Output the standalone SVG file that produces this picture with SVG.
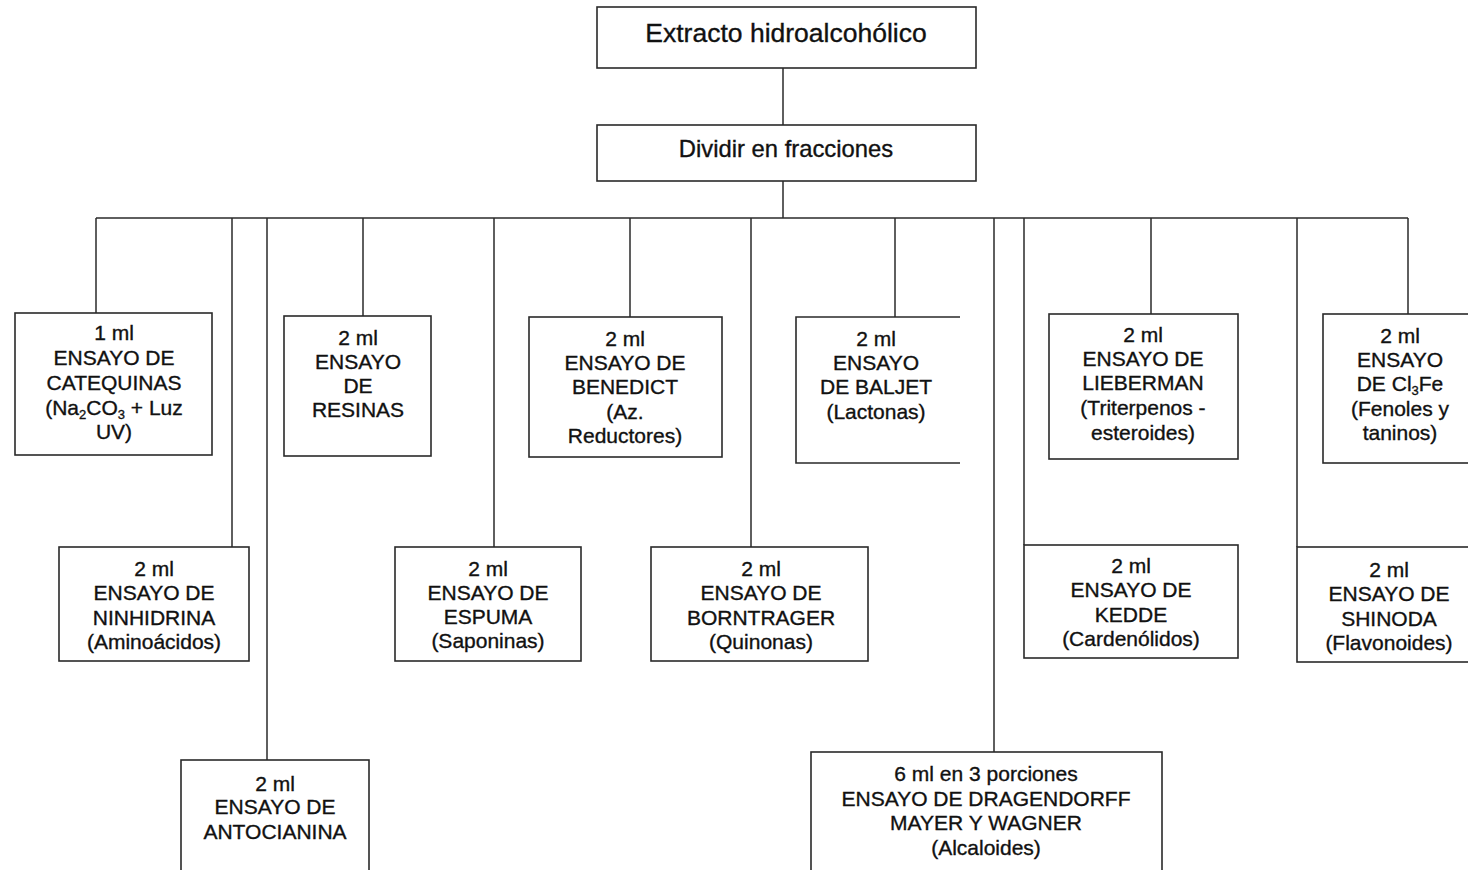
<svg xmlns="http://www.w3.org/2000/svg" width="1468" height="870" viewBox="0 0 1468 870">
<style>
  .box { fill: #ffffff; stroke: #2a2a2a; stroke-width: 1.6; }
  .open { fill: none; stroke: #2a2a2a; stroke-width: 1.6; }
  .conn line { stroke: #2a2a2a; stroke-width: 1.5; }
  text { font-family: "Liberation Sans", Arial, sans-serif; fill: #111111; text-anchor: middle; stroke: #111111; stroke-width: 0.35; }
  .t { font-size: 21px; }
  .big { font-size: 26.5px; }
  .mid { font-size: 23.8px; }
  .sub { font-size: 13px; }
</style>
<rect width="1468" height="870" fill="#ffffff"/>

<g id="connectors" class="conn">
  <line x1="783" y1="68" x2="783" y2="125"/>
  <line x1="783" y1="181" x2="783" y2="218"/>
  <line x1="96" y1="218" x2="1408" y2="218"/>
  <line x1="96" y1="218" x2="96" y2="313"/>
  <line x1="232" y1="218" x2="232" y2="547"/>
  <line x1="267" y1="218" x2="267" y2="760"/>
  <line x1="363" y1="218" x2="363" y2="316"/>
  <line x1="494" y1="218" x2="494" y2="547"/>
  <line x1="630" y1="218" x2="630" y2="317"/>
  <line x1="751" y1="218" x2="751" y2="547"/>
  <line x1="895" y1="218" x2="895" y2="317"/>
  <line x1="994" y1="218" x2="994" y2="752"/>
  <line x1="1024" y1="218" x2="1024" y2="545"/>
  <line x1="1151" y1="218" x2="1151" y2="314"/>
  <line x1="1297" y1="218" x2="1297" y2="547"/>
  <line x1="1408" y1="218" x2="1408" y2="314"/>
</g>

<g id="n-extracto">
  <rect class="box" x="597" y="7" width="379" height="61"/>
  <text class="big" x="786" y="42">Extracto hidroalcohólico</text>
</g>

<g id="n-dividir">
  <rect class="box" x="597" y="125" width="379" height="56"/>
  <text class="mid" x="786" y="157">Dividir en fracciones</text>
</g>

<g id="n-catequinas">
  <rect class="box" x="15" y="313" width="197" height="142"/>
  <text class="t" x="114" y="340">1 ml</text>
  <text class="t" x="114" y="365">ENSAYO DE</text>
  <text class="t" x="114" y="390">CATEQUINAS</text>
  <text class="t" x="114" y="415">(Na<tspan class="sub" dy="4">2</tspan><tspan dy="-4">CO</tspan><tspan class="sub" dy="4">3</tspan><tspan dy="-4"> + Luz</tspan></text>
  <text class="t" x="114" y="439">UV)</text>
</g>

<g id="n-resinas">
  <rect class="box" x="284" y="316" width="147" height="140"/>
  <text class="t" x="358" y="345">2 ml</text>
  <text class="t" x="358" y="369">ENSAYO</text>
  <text class="t" x="358" y="393">DE</text>
  <text class="t" x="358" y="417">RESINAS</text>
</g>

<g id="n-benedict">
  <rect class="box" x="529" y="317" width="193" height="140"/>
  <text class="t" x="625" y="346">2 ml</text>
  <text class="t" x="625" y="370">ENSAYO DE</text>
  <text class="t" x="625" y="394">BENEDICT</text>
  <text class="t" x="625" y="419">(Az.</text>
  <text class="t" x="625" y="443">Reductores)</text>
</g>

<g id="n-baljet">
  <path class="open" d="M960,317 H796 V463 H960"/>
  <text class="t" x="876" y="346">2 ml</text>
  <text class="t" x="876" y="370">ENSAYO</text>
  <text class="t" x="876" y="394">DE BALJET</text>
  <text class="t" x="876" y="419">(Lactonas)</text>
</g>

<g id="n-lieberman">
  <rect class="box" x="1049" y="314" width="189" height="145"/>
  <text class="t" x="1143" y="342">2 ml</text>
  <text class="t" x="1143" y="366">ENSAYO DE</text>
  <text class="t" x="1143" y="390">LIEBERMAN</text>
  <text class="t" x="1143" y="415">(Triterpenos -</text>
  <text class="t" x="1143" y="440">esteroides)</text>
</g>

<g id="n-cl3fe">
  <rect class="box" x="1323" y="314" width="160" height="149"/>
  <text class="t" x="1400" y="343">2 ml</text>
  <text class="t" x="1400" y="367">ENSAYO</text>
  <text class="t" x="1400" y="391">DE Cl<tspan class="sub" dy="4">3</tspan><tspan dy="-4">Fe</tspan></text>
  <text class="t" x="1400" y="416">(Fenoles y</text>
  <text class="t" x="1400" y="440">taninos)</text>
</g>

<g id="n-ninhidrina">
  <rect class="box" x="59" y="547" width="190" height="114"/>
  <text class="t" x="154" y="576">2 ml</text>
  <text class="t" x="154" y="600">ENSAYO DE</text>
  <text class="t" x="154" y="625">NINHIDRINA</text>
  <text class="t" x="154" y="649">(Aminoácidos)</text>
</g>

<g id="n-espuma">
  <rect class="box" x="395" y="547" width="186" height="114"/>
  <text class="t" x="488" y="576">2 ml</text>
  <text class="t" x="488" y="600">ENSAYO DE</text>
  <text class="t" x="488" y="624">ESPUMA</text>
  <text class="t" x="488" y="648">(Saponinas)</text>
</g>

<g id="n-borntrager">
  <rect class="box" x="651" y="547" width="217" height="114"/>
  <text class="t" x="761" y="576">2 ml</text>
  <text class="t" x="761" y="600">ENSAYO DE</text>
  <text class="t" x="761" y="625">BORNTRAGER</text>
  <text class="t" x="761" y="649">(Quinonas)</text>
</g>

<g id="n-kedde">
  <rect class="box" x="1024" y="545" width="214" height="113"/>
  <text class="t" x="1131" y="573">2 ml</text>
  <text class="t" x="1131" y="597">ENSAYO DE</text>
  <text class="t" x="1131" y="622">KEDDE</text>
  <text class="t" x="1131" y="646">(Cardenólidos)</text>
</g>

<g id="n-shinoda">
  <rect class="box" x="1297" y="547" width="186" height="115"/>
  <text class="t" x="1389" y="577">2 ml</text>
  <text class="t" x="1389" y="601">ENSAYO DE</text>
  <text class="t" x="1389" y="626">SHINODA</text>
  <text class="t" x="1389" y="650">(Flavonoides)</text>
</g>

<g id="n-antocianina">
  <rect class="box" x="181" y="760" width="188" height="125"/>
  <text class="t" x="275" y="791">2 ml</text>
  <text class="t" x="275" y="814">ENSAYO DE</text>
  <text class="t" x="275" y="839">ANTOCIANINA</text>
</g>

<g id="n-dragendorff">
  <rect class="box" x="811" y="752" width="351" height="130"/>
  <text class="t" x="986" y="781">6 ml en 3 porciones</text>
  <text class="t" x="986" y="806">ENSAYO DE DRAGENDORFF</text>
  <text class="t" x="986" y="830">MAYER Y WAGNER</text>
  <text class="t" x="986" y="855">(Alcaloides)</text>
</g>
</svg>
